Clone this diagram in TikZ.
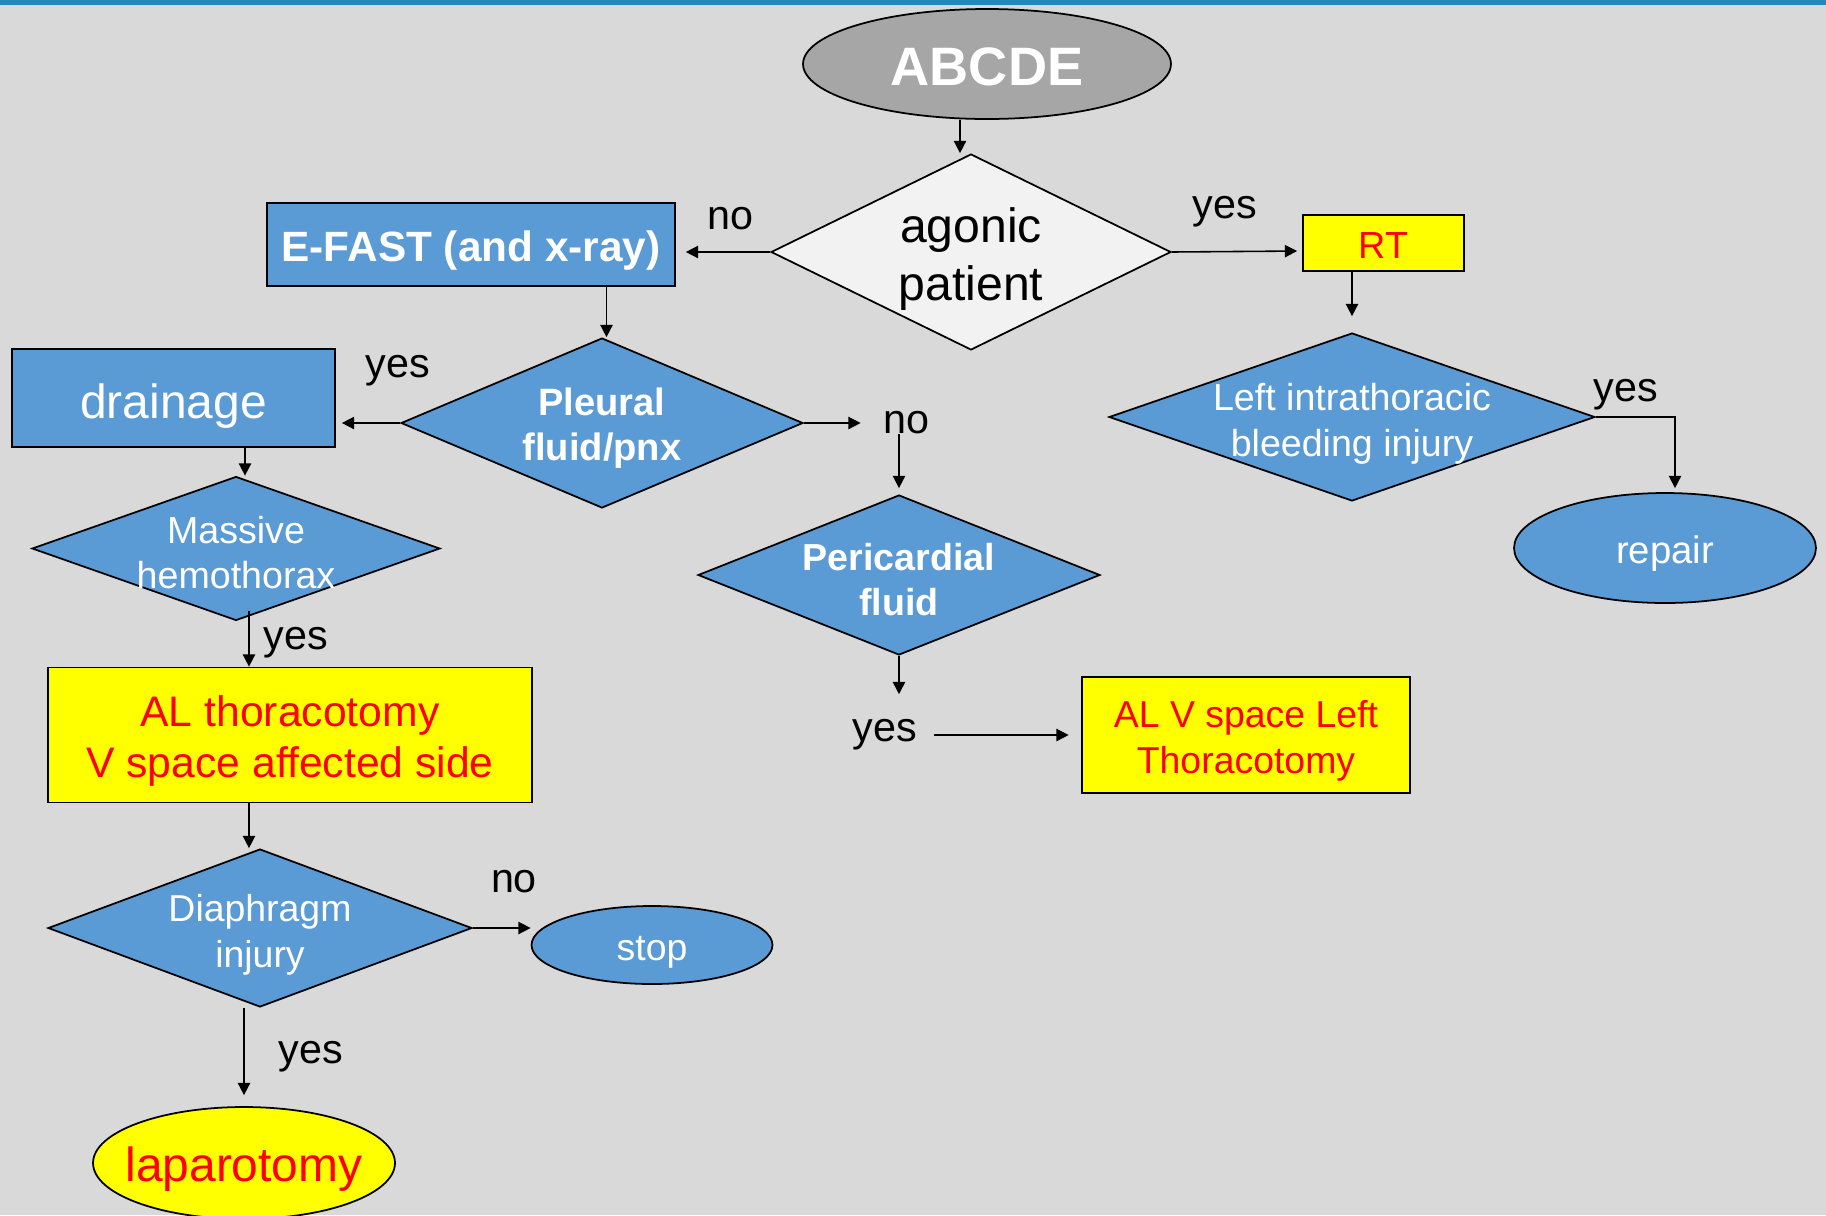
\documentclass[tikz,border=0pt]{standalone}
\usepackage{fontspec}
\setmainfont{Liberation Sans}
\usetikzlibrary{shapes.geometric,arrows.meta}
\definecolor{bgc}{HTML}{D9D9D9}
\definecolor{barc}{HTML}{1E89BA}
\definecolor{boxblue}{HTML}{5B9BD5}
\definecolor{capgray}{HTML}{A6A6A6}
\definecolor{lightd}{HTML}{F2F2F2}
\definecolor{hiyel}{HTML}{FFFF00}
\definecolor{hired}{HTML}{FF0000}
\begin{document}
\begin{tikzpicture}[
  x=0.02cm, y=-0.02cm,
  line width=1pt,
  bluebox/.style={draw, rectangle, fill=boxblue, inner sep=0pt},
  yelbox/.style={draw, rectangle, fill=hiyel, inner sep=0pt},
  dec/.style={draw, diamond, fill=boxblue, inner sep=0pt},
  term/.style={draw, ellipse, fill=boxblue, inner sep=0pt},
  txt/.style={inner sep=0pt, align=center, yshift=-0.12cm},
  wtxt/.style={txt, text=white},
  rtxt/.style={txt, text=hired},
  arr/.style={-{Triangle[length=7pt,width=7pt]}, line width=0.9pt, black},
  lbl/.style={font=\fontsize{23.5}{28}\selectfont, inner sep=2pt}
]
  \useasboundingbox (0,0) rectangle (1826,1215);
  \fill[bgc] (0,0) rectangle (1826,1215);
  \fill[barc] (0,0) rectangle (1826,5);

  \node[draw, ellipse, fill=capgray, inner sep=0pt,
        minimum width=7.36cm, minimum height=2.2cm,
        label={[wtxt, yshift=0.07cm, font=\fontsize{30.8}{36}\selectfont\bfseries]center:ABCDE}]
        (abc) at (987,64) {};
  \node[dec, fill=lightd, minimum width=8cm, minimum height=3.92cm,
        label={[txt, yshift=-0.02cm, font=\fontsize{27.4}{32.5}\selectfont]center:agonic\\patient}]
        (ag) at (971,252) {};
  \node[bluebox, minimum width=8.16cm, minimum height=1.66cm,
        label={[wtxt, font=\fontsize{24.1}{29}\selectfont\bfseries]center:E-FAST (and x-ray)}]
        (ef) at (471,244.5) {};
  \node[yelbox, minimum width=3.22cm, minimum height=1.12cm,
        label={[rtxt, yshift=0.07cm, font=\fontsize{21.5}{26}\selectfont]center:RT}]
        (rt) at (1383.5,243) {};
  \node[dec, minimum width=9.72cm, minimum height=3.36cm,
        label={[wtxt, yshift=-0.02cm, font=\fontsize{21.4}{26}\selectfont]center:Left intrathoracic\\bleeding injury}]
        (ld) at (1352,417) {};
  \node[term, minimum width=6.04cm, minimum height=2.2cm,
        label={[wtxt, font=\fontsize{21.8}{26}\selectfont]center:repair}]
        (rep) at (1665,548) {};
  \node[dec, minimum width=8.04cm, minimum height=3.4cm,
        label={[wtxt, yshift=0.02cm, font=\fontsize{21.7}{26}\selectfont\bfseries]center:Pleural\\fluid/pnx}]
        (pl) at (602,423) {};
  \node[bluebox, minimum width=6.46cm, minimum height=1.96cm,
        label={[wtxt, yshift=-0.04cm, font=\fontsize{27.3}{32}\selectfont]center:drainage}]
        (dr) at (173.5,398) {};
  \node[dec, minimum width=8.04cm, minimum height=3.2cm,
        label={[wtxt, yshift=0.03cm, font=\fontsize{21.4}{26}\selectfont\bfseries]center:Pericardial\\fluid}]
        (pc) at (899,575) {};
  \node[yelbox, minimum width=6.56cm, minimum height=2.32cm,
        label={[rtxt, font=\fontsize{21.3}{26}\selectfont]center:AL V space Left\\Thoracotomy}]
        (alv) at (1246,735) {};
  \node[dec, minimum width=8.16cm, minimum height=2.88cm,
        label={[wtxt, yshift=0.04cm, font=\fontsize{21.4}{26}\selectfont]center:Massive\\hemothorax}]
        (mh) at (236,548.5) {};
  \node[yelbox, minimum width=9.68cm, minimum height=2.7cm,
        label={[rtxt, font=\fontsize{24.3}{29.5}\selectfont]center:AL thoracotomy\\V space affected side}]
        (alt) at (290,735) {};
  \node[dec, minimum width=8.48cm, minimum height=3.16cm,
        label={[wtxt, yshift=-0.02cm, font=\fontsize{21.3}{26}\selectfont]center:Diaphragm\\injury}]
        (dg) at (260,928) {};
  \node[term, minimum width=4.82cm, minimum height=1.56cm,
        label={[wtxt, yshift=-0.02cm, font=\fontsize{21.3}{26}\selectfont]center:stop}]
        (st) at (652,945) {};
  \node[term, fill=hiyel, minimum width=6.04cm, minimum height=2.24cm,
        label={[rtxt, font=\fontsize{27.3}{32}\selectfont]center:laparotomy}]
        (lap) at (244,1163) {};

  %% branch labels
  \node[lbl] (lno1) at (730,219) {no};
  \node[lbl] (lyes1) at (1225,212) {yes};
  \node[lbl] (lyes2) at (1626,395) {yes};
  \node[lbl] (lyes3) at (398,371) {yes};
  \node[lbl] (lno2) at (906,423) {no};
  \node[lbl] (lyes4) at (885,735) {yes};
  \node[lbl] (lyes5) at (296,643) {yes};
  \node[lbl] (lno3) at (514,882) {no};
  \node[lbl] (lyes6) at (311,1057) {yes};

  %% ABCDE -> agonic patient
  \draw[arr] ([xshift=-0.54cm]abc.south) -- ([xshift=-0.22cm]ag.north);

  %% agonic -> E-FAST (no), agonic -> RT (yes)
  \draw[arr, shorten >=0.2cm] (ag.west) -- (ag.west -| ef.east);
  \draw[arr, shorten >=0.1cm] (ag.east) -- ([yshift=-0.16cm]rt.west);

  %% RT -> left intrathoracic bleeding -> repair
  \draw[arr, shorten >=0.32cm] (rt.south -| ld.north) -- (ld.north);
  \draw[arr, shorten >=0.08cm] (ld.east) -| ([xshift=0.2cm]rep.north);

  %% E-FAST -> pleural fluid
  \draw[arr] ([xshift=0.09cm]ef.south -| pl.north) -- ([xshift=0.09cm]pl.north);

  %% pleural -> drainage (yes), pleural -> pericardial (no)
  \draw[arr, shorten >=0.12cm] (pl.west) -- (pl.west -| dr.east);
  \draw[arr, shorten >=0.36cm] (pl.east) -- (lno2.west);
  \draw[arr, shorten >=0.12cm] (lno2.base -| pc.north) -- (pc.north);

  %% pericardial -> AL V space left thoracotomy
  \draw[arr, shorten >=0.42cm] (pc.south) -- (pc.south |- lyes4.north);
  \draw[arr, shorten <=0.25cm, shorten >=0.25cm] (lyes4.east) -- (alv.west);

  %% drainage -> massive hemothorax -> AL thoracotomy -> diaphragm
  \draw[arr] ([xshift=0.18cm]dr.south -| mh.north) -- ([xshift=0.18cm]mh.north);
  \draw[arr] ([xshift=0.26cm,yshift=0.2cm]mh.south) -- ([xshift=0.26cm]mh.south |- alt.north);
  \draw[arr] ([xshift=-0.82cm]alt.south) -- ([xshift=-0.82cm]alt.south |- dg.north);

  %% diaphragm -> stop (no), diaphragm -> laparotomy (yes)
  \draw[arr] (dg.east) -- (dg.east -| st.west);
  \draw[arr, shorten >=0.22cm] (dg.south -| lap.north) -- (lap.north);
\end{tikzpicture}
\end{document}
